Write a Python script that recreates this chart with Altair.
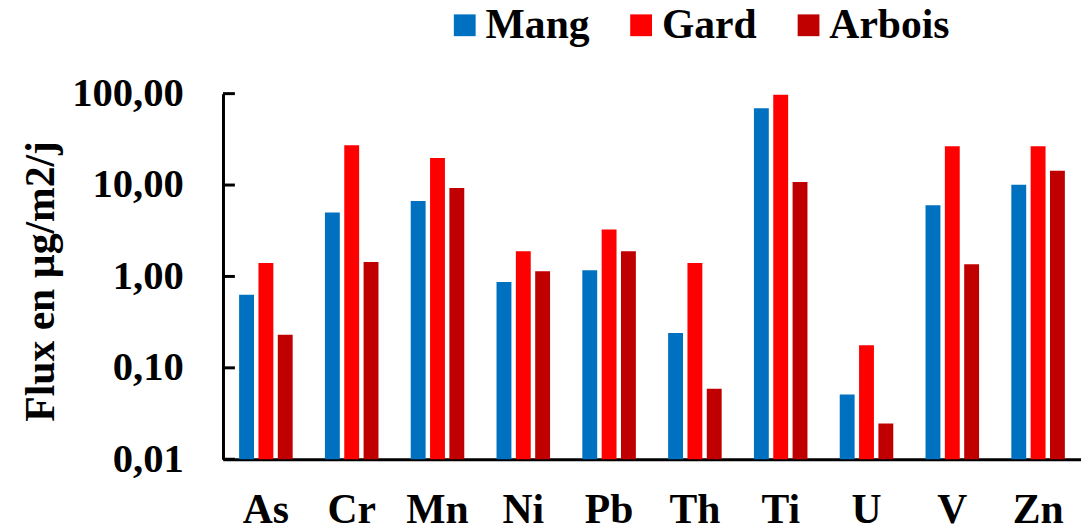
import altair as alt
import pandas as pd

elements = ["As", "Cr", "Mn", "Ni", "Pb", "Th", "Ti", "U", "V", "Zn"]
series = ["Mang", "Gard", "Arbois"]
colors = ["#0070C0", "#FF0000", "#C00000"]
mang = [0.63, 5.0, 6.7, 0.87, 1.17, 0.24, 69.0, 0.051, 6.0, 10.1]
gard = [1.40, 27.3, 19.7, 1.89, 3.27, 1.40, 97.5, 0.177, 26.6, 26.6]
arbois = [0.23, 1.44, 9.3, 1.14, 1.89, 0.059, 10.8, 0.0246, 1.36, 14.3]
tick_values = [0.01, 0.1, 1, 10, 100]

rows = []
for name, vals in zip(series, [mang, gard, arbois]):
    for el, v in zip(elements, vals):
        rows.append({"element": el, "serie": name, "flux": v})
df = pd.DataFrame(rows)
ticks_df = pd.DataFrame({"t": tick_values})

FONT = "Liberation Serif"
W, H = 866, 369

yscale = alt.Scale(type="log", domain=[0.01, 100], nice=False)

bars = alt.Chart(df).mark_bar().encode(
    x=alt.X("element:N", sort=elements,
            scale=alt.Scale(paddingInner=0.376, paddingOuter=0.188),
            axis=alt.Axis(title=None, labelAngle=0, ticks=False, tickSize=0,
                          labelPadding=31, labelFont=FONT, labelFontSize=42,
                          labelFontWeight="bold", labelColor="black",
                          domainColor="black", domainWidth=3, grid=False)),
    xOffset=alt.XOffset("serie:N", sort=series,
                        scale=alt.Scale(paddingInner=0.23, paddingOuter=0)),
    y=alt.Y("flux:Q", scale=yscale,
            axis=alt.Axis(title="Flux en µg/m2/j", values=tick_values,
                          labelExpr="replace(format(datum.value, '.2f'), '.', ',')",
                          ticks=False, tickSize=0, labelPadding=40,
                          labelFont=FONT, labelFontSize=41, labelFontWeight="bold",
                          labelColor="black", domainColor="black", domainWidth=3,
                          grid=False, titleFont=FONT, titleFontSize=42,
                          titleFontWeight="bold", titleColor="black",
                          titleAngle=270, titleBaseline="bottom",
                          titleX=-162, titleY=189)),
    y2=alt.datum(0.01),
    color=alt.Color("serie:N", sort=series,
                    scale=alt.Scale(domain=series, range=colors),
                    legend=alt.Legend(title=None, orient="none", direction="horizontal",
                                      legendX=223, legendY=-90,
                                      symbolType="square", symbolSize=484,
                                      symbolStrokeWidth=0, symbolOpacity=1,
                                      labelFont=FONT, labelFontSize=42,
                                      labelFontWeight="bold", labelColor="black",
                                      labelOffset=0, columnPadding=31, padding=0)),
)

tick_rules = alt.Chart(ticks_df).mark_rule(color="black", strokeWidth=3).encode(
    x=alt.value(0), x2=alt.value(12),
    y=alt.Y("t:Q", scale=yscale),
)

chart = alt.layer(bars, tick_rules).properties(
    width=W, height=H,
    autosize=alt.AutoSizeParams(type="none"),
    padding={"left": 217, "top": 84, "right": 0, "bottom": 70},
).configure_view(strokeWidth=0)

chart.save("out.html", embed_options={"renderer": "svg", "actions": False})
